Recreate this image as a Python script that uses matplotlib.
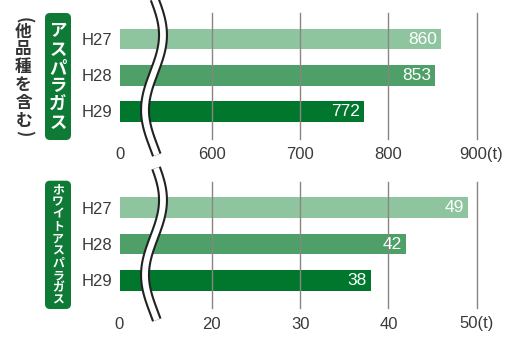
import matplotlib
matplotlib.use("Agg")
import matplotlib.pyplot as plt
import numpy as np
from matplotlib.lines import Line2D
from matplotlib.patches import FancyBboxPatch

years = ["H27", "H28", "H29"]
asparagus = [860, 853, 772]
white_asparagus = [49, 42, 38]
top_ticks = [600, 700, 800, 900]
bottom_ticks = [20, 30, 40, 50]
top_title = "アスパラガス"
bottom_title = "ホワイトアスパラガス"
top_note = "他品種を含む"

BAR_COLORS = ["#8ec59f", "#4f9f69", "#00772d"]
BOX_GREEN = "#0e7a36"
GRID = "#8a8582"
TEXT = "#3a3a3a"
NUM_FONT = ["Liberation Sans", "DejaVu Sans"]
JP_FONT = ["Noto Sans CJK JP", "DejaVu Sans"]

W, H = 524, 338
fig = plt.figure(figsize=(W / 100, H / 100), dpi=100)
fig.patch.set_facecolor("white")
inch = fig.dpi_scale_trans


def px_axes(left, top, right, bottom):
    return fig.add_axes([left / W, 1 - bottom / H, (right - left) / W, (bottom - top) / H])


def draw_panel(ax, values, ticks, x0):
    y = np.arange(len(values))
    ax.barh(y, values, height=0.57, color=BAR_COLORS, zorder=1)
    ax.set_xlim(x0, ticks[-1])
    ax.set_ylim(2.77, -0.72)
    for t in ticks:
        ax.axvline(t, color=GRID, lw=1.0, zorder=2, clip_on=False)
    ax.set_yticks(y, years)
    ax.set_xticks([x0] + ticks[:-1], ["0"] + [str(t) for t in ticks[:-1]])
    ax.tick_params(axis="both", length=0, labelsize=12, colors=TEXT)
    ax.tick_params(axis="x", pad=6)
    ax.tick_params(axis="y", pad=5)
    for lab in ax.get_xticklabels() + ax.get_yticklabels():
        lab.set_fontfamily(NUM_FONT)
    for side in ax.spines.values():
        side.set_visible(False)
    ax.patch.set_alpha(0)
    for yi, v in zip(y, values):
        ax.annotate(str(v), xy=(v, yi), xytext=(-4, 0), textcoords="offset pixels",
                    ha="right", va="center", color="white", fontsize=12.5,
                    family=NUM_FONT, zorder=3)
    ax.annotate(f"{ticks[-1]}(t)", xy=(ticks[-1], 0), xycoords=("data", "axes fraction"),
                xytext=(-17, -8), textcoords="offset pixels", ha="left", va="top",
                color=TEXT, fontsize=12, family=NUM_FONT, annotation_clip=False)


ax_top = px_axes(119.5, 13.3, 476.7, 139)
ax_bot = px_axes(119.5, 181.7, 476.7, 308.3)
draw_panel(ax_top, asparagus, top_ticks, 900 - 357.2 / 0.8833)
draw_panel(ax_bot, white_asparagus, bottom_ticks, 50 - 357.2 / 8.83)


def vertical_text(x, cy, text, size, color, spacing):
    fig.text(x / 100, (H - cy) / 100, "\n".join(text), transform=inch,
             ha="center", va="center", multialignment="center", linespacing=spacing,
             fontsize=size, color=color, family=JP_FONT, weight="bold")


def green_box(top, bottom):
    fig.patches.append(FancyBboxPatch(
        (45 / 100, (H - bottom) / 100), 0.26, (bottom - top) / 100,
        boxstyle="round,pad=0,rounding_size=0.05", transform=inch,
        facecolor=BOX_GREEN, edgecolor="none"))


green_box(13, 140)
vertical_text(58, 77, top_title, 12.5, "white", 1.02)
green_box(180.7, 309)
vertical_text(58, 245, bottom_title, 8.5, "white", 0.93)

# parenthesised note, written top to bottom with turned brackets
vertical_text(23.5, 76, top_note, 12, "#333333", 0.99)
for ch, cy in (("(", 20), (")", 133)):
    fig.text(23.5 / 100, (H - cy) / 100, ch, transform=inch, ha="center", va="center",
             rotation=-90, fontsize=12, color="#333333", family=JP_FONT, weight="bold")

# double wavy break mark across the cut axis
for y_off, y_start, y_end in ((0, -2, 155), (165, 3, 155)):
    yy = np.linspace(y_start, y_end, 200)
    xx = 154 + 9 * np.cos(2 * np.pi * (yy - 35) / 150)
    pts_x, pts_y = xx / 100, (H - (yy + y_off)) / 100
    fig.add_artist(Line2D(pts_x, pts_y, transform=inch, color="#222222", lw=7.2,
                          solid_capstyle="butt", zorder=10))
    fig.add_artist(Line2D(pts_x, pts_y, transform=inch, color="white", lw=4.2,
                          solid_capstyle="butt", zorder=11))

fig.savefig("out.png", dpi=100, facecolor="white")
